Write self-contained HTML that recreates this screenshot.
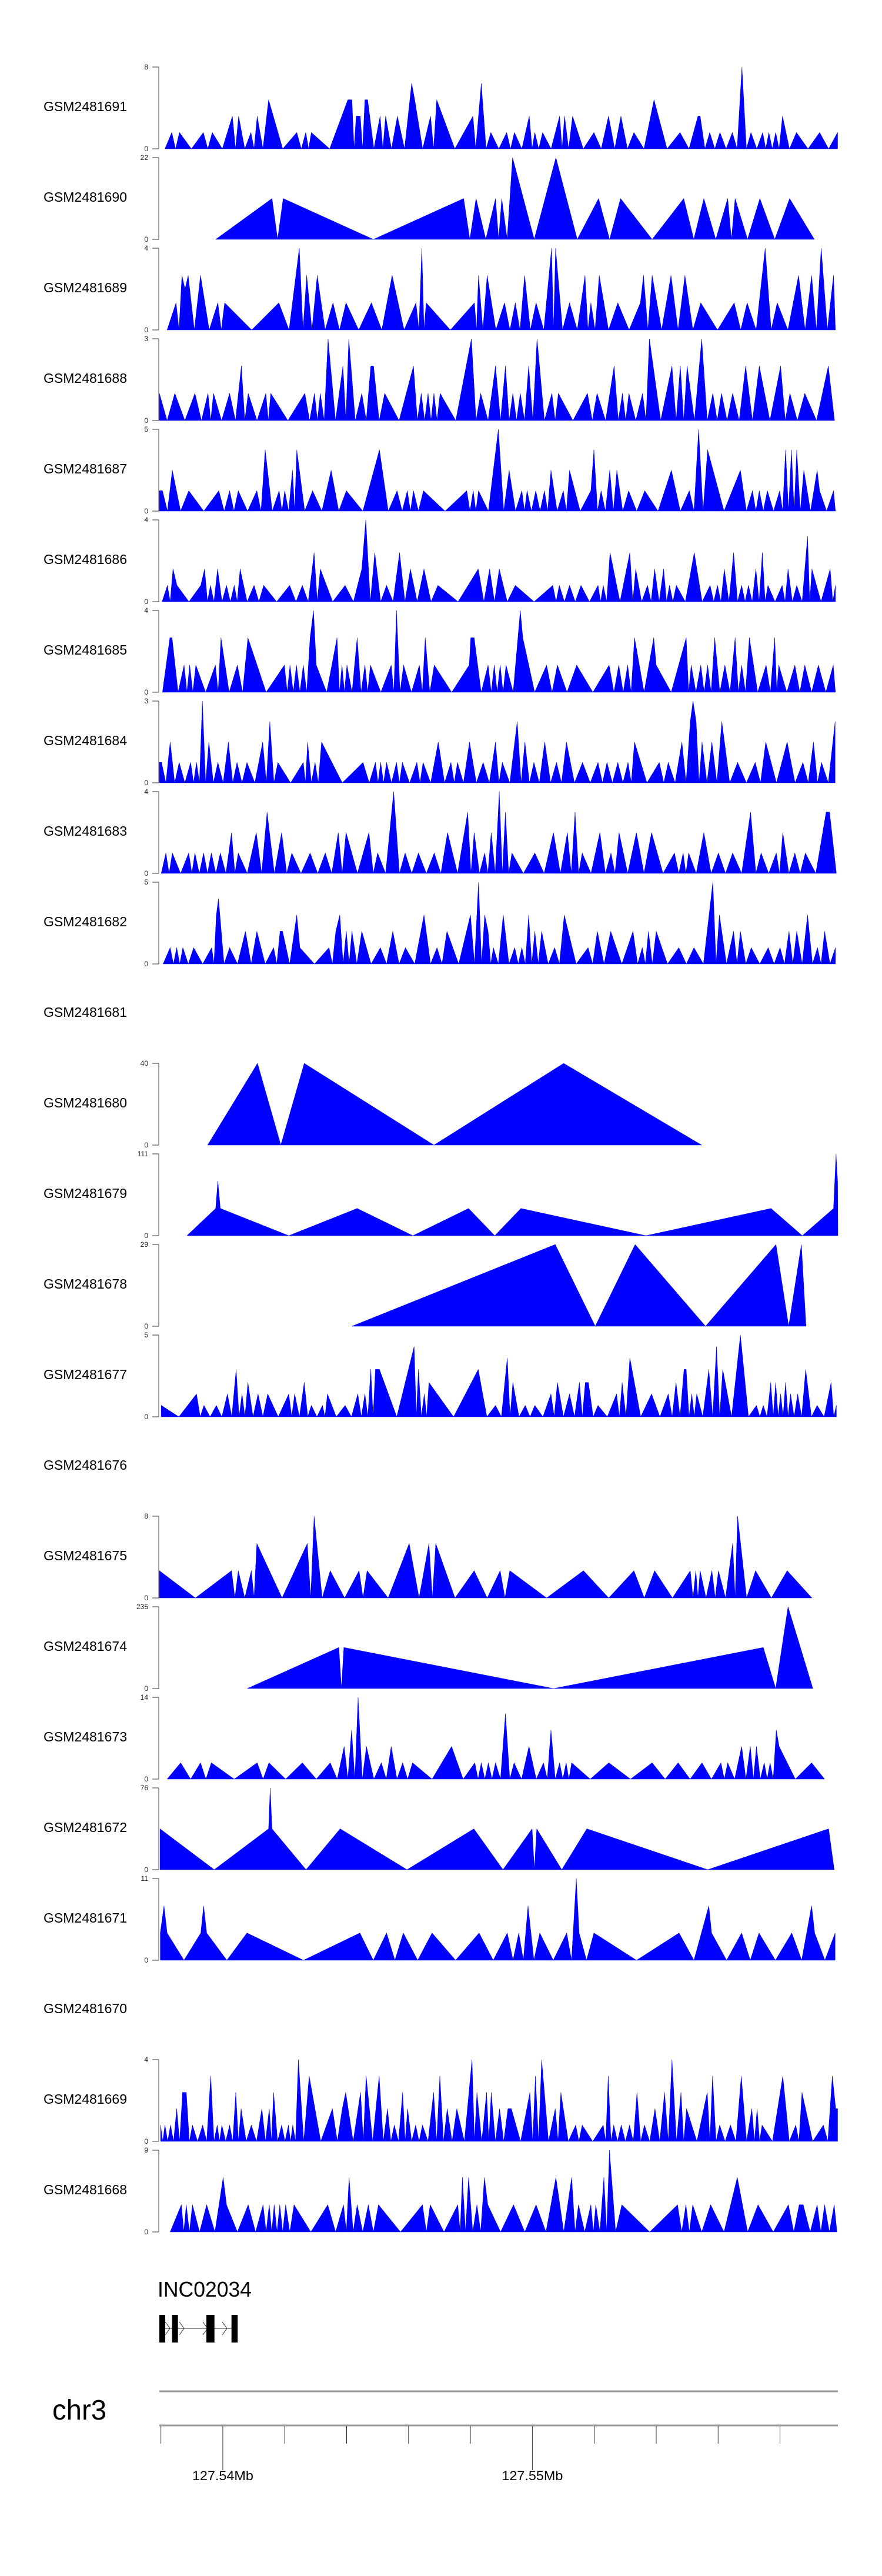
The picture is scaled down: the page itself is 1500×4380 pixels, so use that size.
<!DOCTYPE html>
<html><head><meta charset="utf-8"><style>
html,body{margin:0;padding:0;background:#fff;}
svg{display:block;font-family:"Liberation Sans",Arial,sans-serif;}
</style></head><body>
<svg id="chart" width="1500" height="4380" viewBox="0 0 1500 4380" xmlns="http://www.w3.org/2000/svg"></svg>
<script>
// ---- data (positions in kb offset from region start 127,537.95 kb) ----
const regionStartKb = 127537.95;
const regionEndKb = 127559.87;
const trackNames = ["GSM2481691","GSM2481690","GSM2481689","GSM2481688","GSM2481687","GSM2481686","GSM2481685","GSM2481684","GSM2481683","GSM2481682","GSM2481681","GSM2481680","GSM2481679","GSM2481678","GSM2481677","GSM2481676","GSM2481675","GSM2481674","GSM2481673","GSM2481672","GSM2481671","GSM2481670","GSM2481669","GSM2481668"];
const trackMax = [8,22,4,3,5,4,4,3,4,5,null,40,111,29,5,null,8,235,14,76,11,null,4,9];
const trackStart = [0.18,1.82,0.25,0.0,0.0,0.09,0.10,0.0,0.06,0.12,null,1.56,0.89,6.22,0.06,null,0.0,2.84,0.25,0.02,0.03,null,0.04,0.35];
const trackEnd = [21.91,21.16,21.84,21.81,21.84,21.84,21.84,21.83,21.87,21.84,null,17.52,21.92,20.89,21.87,null,21.08,21.11,21.49,21.80,21.83,null,21.91,21.89];

const pos1691=[0.40,0.65,1.42,1.71,2.36,2.56,2.96,3.16,3.53,4.44,4.73,4.91,6.09,6.22,6.36,6.49,6.64,6.73,7.13,7.31,7.69,8.15,8.25,8.76,8.96,10.13,10.31,10.40,10.71,11.22,11.47,11.95,12.13,12.38,12.93,13.09,13.35,14.04,14.51,14.91,15.33,15.98,16.82,17.40,17.47,17.78,18.11,18.51,18.82,19.11,19.49,19.69,19.91,20.13,20.58,21.33,21.91];
const val1691=[1.6,1.6,1.6,1.6,3.2,3.2,1.6,3.2,4.8,1.6,1.6,1.6,4.8,4.8,3.2,3.2,4.8,4.8,3.2,3.2,3.2,6.4,4.8,3.2,4.8,3.2,3.2,6.4,1.6,1.6,1.6,3.2,1.6,1.6,3.2,3.2,3.2,1.6,3.2,3.2,1.6,4.8,1.6,3.2,3.2,1.6,1.6,1.6,8,1.6,1.6,1.6,1.6,3.2,1.6,1.6,1.6];
const pos1690=[3.64,4.00,9.83,10.23,10.86,11.06,11.41,12.81,14.19,14.90,16.94,17.59,18.36,18.60,19.40,20.36];
const val1690=[11,11,11,11,11,11,22,22,11,11,11,11,11,11,11,11];
const pos1689=[0.54,0.73,0.83,0.93,1.33,1.89,2.11,3.86,4.52,4.76,5.10,5.61,6.03,6.85,7.52,8.29,8.48,8.62,10.18,10.31,10.59,11.15,11.50,11.80,12.17,12.67,12.80,13.25,13.75,13.94,14.21,14.81,15.54,15.64,15.92,16.53,16.98,17.49,18.57,18.99,19.57,19.96,20.65,21.07,21.38,21.78];
const val1689=[1.33,2.67,2.0,2.67,2.67,1.33,1.33,1.33,4,2.67,2.67,1.33,1.33,1.33,2.67,1.33,4,1.33,1.33,2.67,2.67,1.33,1.33,2.67,1.33,4,4,1.33,2.67,1.33,2.67,1.33,1.33,2.67,2.67,2.67,2.67,1.33,1.33,1.33,4,1.33,2.67,2.67,4,2.67];
const pos1688=[0.0,0.50,1.15,1.57,1.75,2.27,2.65,2.87,3.44,3.60,4.70,5.01,5.20,5.45,5.93,6.12,6.54,6.83,6.92,7.28,8.21,8.46,8.68,8.87,9.07,10.08,10.38,10.86,11.18,11.42,11.66,11.93,12.20,12.68,12.89,13.83,14.14,14.69,14.96,15.17,15.61,15.83,16.56,16.83,17.05,17.52,17.88,18.16,18.52,18.94,19.38,20.07,20.37,20.85,21.61];
const val1688=[1,1,1,1,1,1,2,1,1,1,1,1,1,3,2,3,1,2,2,1,2,1,1,1,1,3,1,2,2,1,1,2,3,1,1,1,1,2,1,1,1,3,2,2,2,3,1,1,1,2,2,2,1,1,2];
const pos1687=[0.0,0.10,0.42,0.95,1.92,2.27,2.55,3.15,3.42,3.87,4.05,4.30,4.44,4.95,5.55,6.04,7.11,7.68,8.01,8.21,8.53,9.93,10.14,10.31,10.95,11.30,11.71,11.88,12.16,12.44,12.65,13.05,13.25,13.94,14.04,14.27,14.55,14.78,15.16,15.68,16.54,17.12,17.42,17.71,18.77,19.16,19.38,19.64,20.04,20.23,20.42,20.59,20.82,21.25,21.33,21.78];
const val1687=[1.25,1.25,2.5,1.25,1.25,1.25,1.25,1.25,3.75,1.25,1.25,2.5,3.75,1.25,2.5,1.25,3.75,1.25,1.25,1.25,1.25,1.25,1.25,1.25,5,2.5,1.25,1.25,1.25,1.25,2.5,1.25,2.5,1.25,3.75,1.25,2.5,2.5,1.25,1.25,2.5,1.25,5,3.75,2.5,1.25,1.25,1.25,1.25,3.75,3.75,3.75,2.5,2.5,1.25,1.25];
const pos1686=[0.26,0.44,0.57,1.34,1.46,1.65,1.88,2.17,2.42,2.61,3.06,3.37,4.21,4.62,5.00,5.20,6.00,6.54,6.67,6.96,7.34,7.76,8.11,8.55,9.00,10.30,10.67,10.98,11.50,12.71,12.92,13.25,13.62,14.17,14.34,14.56,15.20,15.39,15.77,16.00,16.29,16.48,16.70,17.28,17.79,18.03,18.25,18.55,18.81,19.03,19.27,19.48,19.66,20.12,20.31,20.59,20.94,21.08,21.67,21.84];
const val1686=[0.8,1.6,0.8,0.8,1.6,0.8,1.6,0.8,0.8,1.6,0.8,0.8,0.8,0.8,2.4,1.6,0.8,1.6,4,2.4,0.8,2.4,1.6,1.6,0.8,1.6,1.6,1.6,0.8,0.8,0.8,0.8,0.8,0.8,0.8,2.4,2.4,1.6,0.8,1.6,1.6,0.8,0.8,2.4,0.8,0.8,1.6,2.4,0.8,0.8,1.6,2.4,0.8,0.8,1.6,0.8,3.2,1.6,1.6,0.8];
const pos1685=[0.34,0.41,0.80,0.98,1.18,1.81,1.99,2.52,2.86,4.04,4.22,4.43,4.65,4.87,4.98,5.07,5.74,5.90,6.06,6.39,6.64,6.82,7.49,7.66,7.89,8.40,8.59,8.88,10.01,10.06,10.17,10.62,10.82,11.01,11.20,11.66,11.74,12.51,12.86,13.48,14.53,14.84,15.13,15.35,15.97,16.05,17.02,17.18,17.49,17.71,17.94,18.27,18.60,18.81,19.06,19.60,19.88,20.01,20.53,20.85,21.29,21.77];
const val1685=[2.67,2.67,1.33,1.33,1.33,1.33,2.67,1.33,2.67,1.33,1.33,1.33,1.33,2.67,4,1.33,2.67,1.33,1.33,2.67,1.33,1.33,1.33,4,1.33,1.33,2.67,1.33,1.33,2.67,2.67,1.33,1.33,1.33,1.33,4,2.67,1.33,1.33,1.33,1.33,1.33,1.33,2.67,2.67,1.33,2.67,1.33,1.33,1.33,2.67,1.33,2.67,1.33,2.67,1.33,2.67,1.33,1.33,1.33,1.33,1.33];
const pos1684=[0.0,0.07,0.35,0.64,1.01,1.20,1.39,1.60,1.89,2.23,2.51,2.83,3.34,3.57,3.83,4.65,4.79,5.03,5.24,6.58,6.98,7.15,7.34,7.66,7.85,8.32,8.52,9.01,9.42,9.63,10.02,10.46,10.86,11.08,11.56,11.81,12.10,12.45,12.83,13.15,13.67,14.17,14.46,14.81,15.14,15.35,16.15,16.44,16.88,17.15,17.24,17.34,17.53,17.85,18.17,18.68,19.25,19.59,20.28,20.79,21.13,21.39,21.83];
const val1684=[0.75,0.75,1.5,0.75,0.75,0.75,3,1.5,0.75,1.5,0.75,0.75,1.5,2.25,0.75,0.75,1.5,0.75,1.5,0.75,0.75,0.75,0.75,0.75,0.75,0.75,0.75,1.5,0.75,0.75,1.5,0.75,1.5,0.75,2.25,1.5,0.75,1.5,0.75,1.5,0.75,0.75,0.75,0.75,0.75,1.5,0.75,0.75,1.5,2.25,3,2.25,1.5,1.5,2.25,0.75,0.75,1.5,1.5,0.75,1.5,0.75,2.25];
const pos1683=[0.21,0.42,0.95,1.15,1.43,1.68,1.97,2.33,2.55,3.13,3.48,3.95,4.28,4.87,5.36,5.78,6.03,6.77,7.05,7.57,7.94,8.37,8.88,9.31,9.96,10.17,10.51,10.72,10.98,11.18,11.39,12.13,12.73,13.18,13.43,13.66,14.23,14.59,14.85,15.41,15.90,16.64,16.92,17.10,17.59,18.06,18.52,19.10,19.44,19.93,20.14,20.53,20.87,21.54,21.65];
const val1683=[1,1,1,1,1,1,1,2,1,2,3,2,1,1,1,2,2,2,1,4,1,1,1,2,3,2,1,2,4,3,1,1,2,2,3,1,2,1,2,2,2,1,1,1,2,1,1,3,1,1,2,1,1,3,3];
const pos1682=[0.35,0.56,0.76,1.11,1.69,1.84,1.91,2.27,2.78,3.15,3.69,3.90,3.98,4.44,4.54,5.48,5.70,5.83,6.04,6.22,6.54,7.14,7.54,7.95,8.55,8.97,9.29,10.05,10.31,10.51,10.62,10.79,11.11,11.48,11.71,11.93,12.13,12.35,12.77,13.08,13.85,14.15,14.58,15.30,15.60,15.80,16.05,16.78,17.27,17.88,18.09,18.55,18.77,19.12,19.67,20.05,20.34,20.59,20.94,21.26,21.49,21.84];
const val1682=[1,1,1,1,1,3,4,1,2,2,1,2,2,3,1,1,2,3,2,2,2,1,2,1,3,1,2,3,5,3,2,1,3,1,1,3,2,2,1,3,1,2,2,2,1,2,2,1,1,5,3,2,2,1,1,1,2,2,3,1,2,1];
const pos1681=[];
const val1681=[];
const pos1680=[3.17,4.68,13.06];
const val1680=[40,40,40];
const pos1679=[1.82,1.89,1.97,6.39,9.99,11.68,19.76,21.78,21.86,21.91];
const val1679=[37,74,37,37,37,37,37,37,111,74];
const pos1678=[12.79,15.37,19.92,20.74];
const val1678=[29,29,29,29];
const pos1677=[0.06,1.20,1.44,1.84,2.20,2.48,2.67,2.86,3.19,3.50,4.18,4.37,4.68,4.91,5.27,5.43,6.00,6.41,6.64,6.83,6.98,7.11,8.23,8.37,8.56,8.71,10.30,10.86,11.24,11.42,11.82,12.13,12.65,12.86,13.25,13.57,13.76,13.86,14.17,14.77,14.95,15.20,15.90,16.44,16.69,16.95,17.02,17.20,17.36,17.75,18.00,18.20,18.77,19.29,19.51,19.75,19.91,20.07,20.23,20.39,20.62,20.88,21.25,21.70,21.87];
const val1677=[0.7,1.4,0.7,0.7,1.4,2.9,1.4,2.1,1.4,1.4,1.4,1.4,2.1,0.7,0.7,1.4,0.7,1.4,1.4,2.9,2.9,2.9,4.3,2.9,1.4,2.1,2.9,0.7,3.6,2.1,0.7,0.7,1.4,2.1,1.4,2.1,2.1,2.1,0.7,1.4,2.1,3.6,1.4,1.4,2.1,2.9,2.9,1.4,1.4,2.9,4.3,2.9,5,0.7,0.7,2.1,2.1,1.4,2.1,1.4,1.4,2.9,0.7,2.1,0.7];
const pos1676=[];
const val1676=[];
const pos1675=[0.0,2.33,2.55,2.97,3.15,4.78,5.00,5.52,6.45,6.71,8.07,8.71,8.93,10.17,11.01,11.32,13.70,15.33,16.00,17.15,17.33,17.47,17.85,18.06,18.52,18.68,19.26,20.28];
const val1675=[2.67,2.67,2.67,2.67,5.33,5.33,8,2.67,2.67,2.67,5.33,5.33,5.33,2.67,2.67,2.67,2.67,2.67,2.67,2.67,2.67,2.67,2.67,2.67,5.33,8,2.67,2.67];
const pos1674=[5.80,5.96,19.51,20.31];
const val1674=[118,118,118,235];
const pos1673=[0.69,1.33,1.68,3.16,3.54,4.62,5.52,5.97,6.21,6.42,6.69,7.17,7.49,7.86,8.18,9.44,10.19,10.40,10.63,10.86,11.18,11.46,11.94,12.41,12.65,12.93,13.14,13.32,14.52,15.92,16.76,17.53,18.14,18.36,18.81,19.09,19.29,19.54,19.73,19.93,20.02,21.07];
const val1673=[2.8,2.8,2.8,2.8,2.8,2.8,2.8,5.6,8.4,14,5.6,2.8,5.6,2.8,2.8,5.6,2.8,2.8,2.8,2.8,11.2,2.8,5.6,2.8,8.4,2.8,2.8,2.8,2.8,2.8,2.8,2.8,2.8,2.8,5.6,5.6,5.6,2.8,2.8,8.4,5.6,2.8];
const pos1672=[0.02,3.53,3.58,3.64,5.84,10.16,12.04,12.19,13.81,21.62];
const val1672=[38,38,76,38,38,38,38,38,38,38];
const pos1671=[0.03,0.15,0.25,1.34,1.43,1.53,2.83,6.48,7.34,7.88,8.81,10.33,11.24,11.61,11.91,12.29,13.16,13.47,13.56,14.04,16.79,17.75,17.84,18.81,19.37,20.43,21.07,21.17,21.83];
const val1671=[3.67,7.33,3.67,3.67,7.33,3.67,3.67,3.67,3.67,3.67,3.67,3.67,3.67,3.67,7.33,3.67,3.67,11,3.67,3.67,3.67,7.33,3.67,3.67,3.67,3.67,7.33,3.67,3.67];
const pos1670=[];
const val1670=[];
const pos1669=[0.04,0.18,0.36,0.56,0.75,0.87,1.07,1.40,1.66,1.87,2.02,2.27,2.47,2.64,2.97,3.31,3.55,3.69,3.95,4.17,4.31,4.49,4.84,5.59,5.91,6.02,6.50,6.68,7.10,7.37,7.59,7.86,8.02,8.28,8.50,8.86,9.06,9.30,9.61,10.10,10.26,10.57,10.72,10.99,11.26,11.37,11.97,12.15,12.35,12.79,12.97,13.45,13.66,14.34,14.50,14.68,14.92,15.19,15.43,15.67,16.01,16.32,16.56,16.85,17.03,17.70,17.87,18.10,18.45,18.80,19.14,19.31,19.47,20.14,20.56,20.76,21.45,21.74,21.85,21.91];
const val1669=[0.8,0.8,0.8,1.6,2.4,2.4,0.8,0.8,3.2,0.8,0.8,0.8,2.4,1.6,0.8,1.6,1.6,2.4,0.8,0.8,0.8,4,3.2,1.6,1.6,2.4,2.4,3.2,3.2,1.6,0.8,2.4,1.6,0.8,0.8,2.4,3.2,1.6,1.6,4,2.4,2.4,2.4,1.6,1.6,1.6,2.4,3.2,4,1.6,2.4,0.8,0.8,0.8,3.2,0.8,0.8,0.8,2.4,0.8,1.6,2.4,4,2.4,1.6,2.4,3.2,0.8,0.8,3.2,1.6,1.6,0.8,3.2,0.8,2.4,0.8,3.2,1.6,1.6];
const pos1668=[0.71,0.87,1.07,1.53,2.06,2.17,2.87,3.35,3.55,3.71,3.89,4.08,4.35,5.44,5.95,6.13,6.39,6.75,7.08,8.50,8.75,9.64,9.79,9.99,10.26,10.50,10.61,11.44,12.17,12.81,13.32,13.54,13.94,14.10,14.36,14.54,14.94,16.74,17.01,17.23,17.81,18.67,19.34,20.32,20.67,20.80,21.25,21.49,21.80];
const val1668=[3,3,3,3,6,3,3,3,3,3,3,3,3,3,3,6,3,3,3,3,3,3,6,6,3,6,3,3,3,6,6,3,3,3,6,9,3,3,3,3,3,6,3,3,3,3,3,3,3];

const trackPos=[pos1691,pos1690,pos1689,pos1688,pos1687,pos1686,pos1685,pos1684,pos1683,pos1682,pos1681,pos1680,pos1679,pos1678,pos1677,pos1676,pos1675,pos1674,pos1673,pos1672,pos1671,pos1670,pos1669,pos1668];
const trackVal=[val1691,val1690,val1689,val1688,val1687,val1686,val1685,val1684,val1683,val1682,val1681,val1680,val1679,val1678,val1677,val1676,val1675,val1674,val1673,val1672,val1671,val1670,val1669,val1668];

const axisTicksKb=[127538,127540,127542,127544,127546,127548,127550,127552,127554,127556,127558];
const axisLabelTicksKb=[127540,127550];
const axisLabels=["127.54Mb","127.55Mb"];
const geneName="INC02034";
const geneExonsKb=[[127537.95,127538.14],[127538.36,127538.55],[127539.47,127539.73],[127540.28,127540.48]];

// ---- layout ----
const NS="http://www.w3.org/2000/svg";
const svg=document.getElementById('chart');
const X0=271, X1=1425, TOP0=114, PITCH=154, TH=139;
function xScale(offKb){return X0+offKb*(X1-X0)/(regionEndKb-regionStartKb);}
function xAbs(kb){return xScale(kb-regionStartKb);}
function mk(tag,attrs,parent){const e=document.createElementNS(NS,tag);for(const k in attrs)e.setAttribute(k,attrs[k]);(parent||svg).appendChild(e);return e;}

trackNames.forEach((name,i)=>{
  const top=TOP0+i*PITCH, base=top+TH;
  const g=mk('g',{});
  
  
  const lbl=mk('text',{x:74,y:top+75,'font-size':23,fill:'#000',textLength:142,lengthAdjust:'spacingAndGlyphs'},g);
  lbl.textContent=name;
  
  
  const mx=trackMax[i];
  if(mx===null) return;
  const yS=v=>base-v*TH/mx;
  const ax=mk('line',{x1:270,y1:top,x2:270,y2:base,stroke:'#8a8a8a','stroke-width':1.5},g);
  
  
  [[mx,top],[0,base]].forEach(([v,y])=>{
    const t=mk('line',{x1:259,y1:y,x2:270,y2:y,stroke:'#555','stroke-width':1.2},g);
    
    
    const tl=mk('text',{x:252,y:y+4,'font-size':12,fill:'#222','text-anchor':'end'},g);
    tl.textContent=String(v);
    
    
  });
  const P=trackPos[i], V=trackVal[i];
  if(!P.length) return;
  const pts=[[xScale(trackStart[i]),base]];
  for(let j=0;j<P.length;j++){
    if(j>0 && P[j]-P[j-1]>=0.13) pts.push([xScale((P[j]+P[j-1])/2),base]);
    pts.push([xScale(P[j]),yS(V[j])]);
  }
  pts.push([xScale(trackEnd[i]),base]);
  const poly=mk('polygon',{points:pts.map(p=>p[0].toFixed(1)+','+p[1].toFixed(1)).join(' '),fill:'#0000ff',stroke:'#0000ff','stroke-width':0.5},g);
  
  
});

// gene track
const gg=mk('g',{});


const gt=mk('text',{x:268,y:3905,'font-size':36,fill:'#000',textLength:160,lengthAdjust:'spacingAndGlyphs'},gg);
gt.textContent=geneName;


const intr=mk('line',{x1:xAbs(geneExonsKb[0][0]),y1:3959,x2:xAbs(geneExonsKb[3][1]),y2:3959,stroke:'#333','stroke-width':1},gg);


[281,305,345,378].forEach(cx=>{
  const c=mk('polyline',{points:`${cx},3948 ${cx+8},3959 ${cx},3970`,fill:'none',stroke:'#333','stroke-width':1},gg);
  
  
});
geneExonsKb.forEach(e=>{
  const r=mk('rect',{x:xAbs(e[0]),y:3936,width:xAbs(e[1])-xAbs(e[0]),height:47,fill:'#000'},gg);
  
  
});

// chromosome axis
const cg=mk('g',{});


const ideo=mk('line',{x1:X0,y1:4066,x2:X1,y2:4066,stroke:'#999','stroke-width':3},cg);


const chr=mk('text',{x:89,y:4114,'font-size':48,fill:'#000',textLength:92,lengthAdjust:'spacingAndGlyphs'},cg);
chr.textContent='chr3';


const al=mk('line',{x1:X0,y1:4124,x2:X1,y2:4124,stroke:'#999','stroke-width':3},cg);


axisTicksKb.forEach(kb=>{
  const long=axisLabelTicksKb.includes(kb);
  const t=mk('line',{x1:xAbs(kb),y1:4125,x2:xAbs(kb),y2:long?4200:4155,stroke:'#333','stroke-width':1},cg);
  
  
});
axisLabelTicksKb.forEach((kb,k)=>{
  const t=mk('text',{x:xAbs(kb),y:4217,'font-size':22,fill:'#000','text-anchor':'middle',textLength:104,lengthAdjust:'spacingAndGlyphs'},cg);
  t.textContent=axisLabels[k];
  
  
});
</script>
</body></html>
